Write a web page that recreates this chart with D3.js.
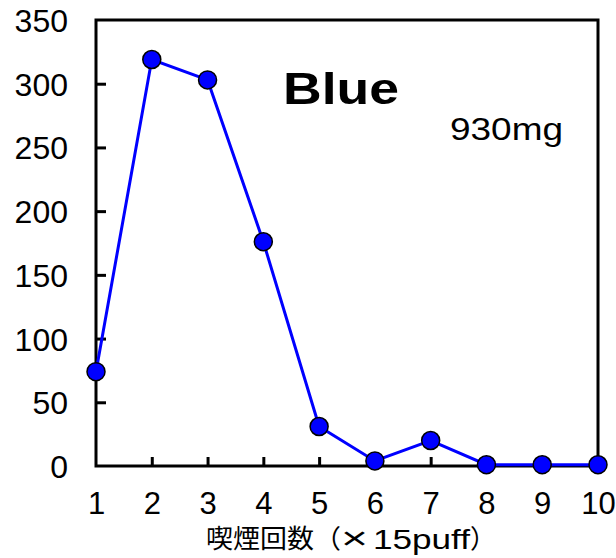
<!DOCTYPE html>
<html>
<head>
<meta charset="utf-8">
<script src="https://cdn.jsdelivr.net/npm/d3@7"></script>
<style>
  html, body { margin: 0; padding: 0; background: #fff; }
  svg { display: block; }
  text { font-family: "Liberation Sans", Arial, "Noto Sans CJK JP", sans-serif; fill: #000; }
</style>
</head>
<body>
<svg id="chart" width="616" height="558"></svg>
<script>
// Smoking-run counts (x15 puffs) and measured amounts
const puffRuns = [1, 2, 3, 4, 5, 6, 7, 8, 9, 10];
const amounts = [74, 319, 303, 176, 31, 4, 20, 1, 1, 1];
const yTicks = [0, 50, 100, 150, 200, 250, 300, 350];
const titleText = "Blue";
const weightText = "930mg";
const xAxisTitleCJK = "喫煙回数（";
const xAxisTitleTimes = "×";
const xAxisTitleUnit = "15puff";
const xAxisTitleClose = "）";

const svg = d3.select("#chart");
const plot = { left: 96, right: 598, top: 20, bottom: 466 };

const x = d3.scaleLinear().domain([1, 10]).range([plot.left, plot.right]);
const y = d3.scaleLinear().domain([0, 350]).range([plot.bottom, plot.top]);

// Frame around the plot area
svg.append("rect")
  .attr("x", plot.left).attr("y", plot.top)
  .attr("width", plot.right - plot.left).attr("height", plot.bottom - plot.top)
  .attr("fill", "none").attr("stroke", "#000").attr("stroke-width", 3);

// Y axis: inward ticks, labels on the left
const yAxis = d3.axisLeft(y).tickValues(yTicks).tickSize(-10).tickPadding(28)
  .tickFormat(d3.format("d"));
const gy = svg.append("g").attr("transform", `translate(${plot.left},0)`).call(yAxis);
gy.select(".domain").remove();
gy.selectAll(".tick line").attr("stroke", "#000").attr("stroke-width", 3)
  .filter(d => d === 0 || d === 350).remove();
gy.selectAll(".tick text").attr("font-size", 32).attr("font-family", null)
  .attr("dy", "0.36em");

// X axis: inward ticks, labels below
const xAxis = d3.axisBottom(x).tickValues(puffRuns).tickSize(-9)
  .tickFormat(d3.format("d"));
const gx = svg.append("g").attr("transform", `translate(0,${plot.bottom})`).call(xAxis);
gx.select(".domain").remove();
gx.selectAll(".tick line").attr("stroke", "#000").attr("stroke-width", 3)
  .filter(d => d === 1 || d === 10).remove();
gx.selectAll(".tick text").attr("font-size", 31).attr("font-family", null)
  .attr("dy", null).attr("y", 48);

// Series line
const line = d3.line().x((d, i) => x(puffRuns[i])).y(d => y(d));
svg.append("path").datum(amounts)
  .attr("d", line).attr("fill", "none")
  .attr("stroke", "#0000ff").attr("stroke-width", 3);

// Markers
svg.append("g").selectAll("circle").data(amounts).join("circle")
  .attr("cx", (d, i) => x(puffRuns[i])).attr("cy", d => y(d))
  .attr("r", 9).attr("fill", "#0000ff")
  .attr("stroke", "#000").attr("stroke-width", 1.5);

// Annotations
svg.append("text").attr("x", 283).attr("y", 104)
  .attr("font-size", 45).attr("font-weight", "bold")
  .attr("textLength", 116).attr("lengthAdjust", "spacingAndGlyphs")
  .text(titleText);
svg.append("text").attr("x", 450).attr("y", 140)
  .attr("font-size", 32)
  .attr("textLength", 113).attr("lengthAdjust", "spacingAndGlyphs")
  .text(weightText);

// X axis title (CJK part, multiplication sign, Latin unit, closing bracket)
svg.append("text").attr("x", 206).attr("y", 548)
  .attr("font-size", 26).attr("font-family", "'Noto Sans CJK JP', sans-serif")
  .attr("textLength", 135).attr("lengthAdjust", "spacingAndGlyphs")
  .text(xAxisTitleCJK);
svg.append("text").attr("x", 341).attr("y", 549)
  .attr("font-size", 32)
  .attr("textLength", 27).attr("lengthAdjust", "spacingAndGlyphs")
  .text(xAxisTitleTimes);
svg.append("text").attr("x", 373).attr("y", 549)
  .attr("font-size", 27)
  .attr("textLength", 97).attr("lengthAdjust", "spacingAndGlyphs")
  .text(xAxisTitleUnit);
svg.append("text").attr("x", 470).attr("y", 548)
  .attr("font-size", 26).attr("font-family", "'Noto Sans CJK JP', sans-serif")
  .text(xAxisTitleClose);
</script>
</body>
</html>
